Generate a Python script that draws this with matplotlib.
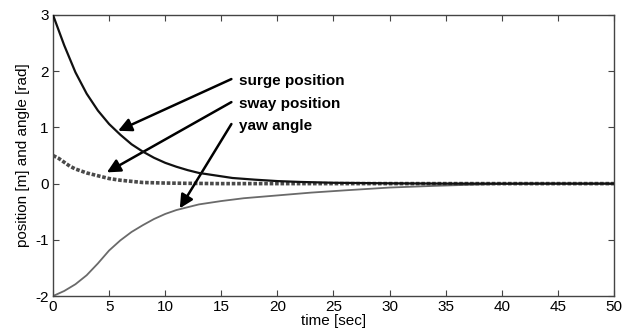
import numpy as np
import matplotlib
matplotlib.use("Agg")
import matplotlib.pyplot as plt

# ── data ─────────────────────────────────────
t_surge = [0, 1, 2, 3, 4, 5, 6, 7, 8, 9, 10, 11, 12, 13, 14, 15, 16, 18, 20, 22, 25, 30, 35, 50]
surge   = [3.0, 2.46, 1.98, 1.60, 1.30, 1.06, 0.87, 0.70, 0.57, 0.46, 0.37, 0.30, 0.24, 0.19,
           0.16, 0.13, 0.10, 0.07, 0.045, 0.03, 0.015, 0.005, 0.0, 0.0]

t_sway = [0, 0.5, 1, 1.5, 2, 3, 4, 5, 6, 7, 8, 10, 12, 15, 50]
sway   = [0.5, 0.45, 0.38, 0.31, 0.26, 0.19, 0.14, 0.09, 0.06, 0.04, 0.02, 0.01, 0.005, 0.0, 0.0]

t_yaw = [0, 1, 2, 3, 4, 5, 6, 7, 8, 9, 10, 11, 12, 13, 15, 17, 20, 23, 26, 30, 34, 38, 42, 50]
yaw   = [-2.0, -1.91, -1.79, -1.63, -1.42, -1.19, -1.01, -0.86, -0.74, -0.63, -0.54, -0.47,
         -0.42, -0.37, -0.31, -0.26, -0.21, -0.16, -0.12, -0.07, -0.04, -0.015, 0.0, 0.0]

labels     = ["surge position", "sway position", "yaw angle"]
label_y    = [1.83, 1.42, 1.03]
arrow_tips = [(5.8, 0.94), (4.8, 0.2), (11.3, -0.44)]

plt.rcParams["font.family"] = ["Liberation Sans", "DejaVu Sans"]
plt.rcParams["axes.unicode_minus"] = False

fig = plt.figure(figsize=(6.31, 3.33), dpi=100)
ax = fig.add_axes([0.084, 0.111, 0.889, 0.844])

ax.plot(t_yaw, yaw, color="#6a6a6a", lw=1.3, zorder=2)
ax.plot(t_sway, sway, color="#4a4a4a", lw=2.6, ls=(0, (1, 0.5)), zorder=3)
ax.plot(t_surge, surge, color="#111111", lw=1.6, zorder=4)

for lab, ly, tip in zip(labels, label_y, arrow_tips):
    ax.annotate("", xy=tip, xytext=(15.9, ly + 0.03),
                arrowprops=dict(arrowstyle="-|>", color="black", lw=1.8,
                                mutation_scale=20, shrinkA=0, shrinkB=0))
    ax.text(16.6, ly, lab, fontsize=11, fontweight="bold", va="center", ha="left")

ax.set_xlim(0, 50)
ax.set_ylim(-2, 3)
ax.set_xticks(np.arange(0, 51, 5))
ax.set_yticks(np.arange(-2, 4, 1))
ax.tick_params(direction="in", top=True, right=True, length=4, labelsize=11,
               color="#444444", pad=3)
for s in ax.spines.values():
    s.set_color("#444444")
    s.set_linewidth(1.0)

ax.set_xlabel("time [sec]", fontsize=11, labelpad=0)
ax.set_ylabel("position [m] and angle [rad]", fontsize=11, labelpad=4)

fig.savefig("out.png", dpi=100)
